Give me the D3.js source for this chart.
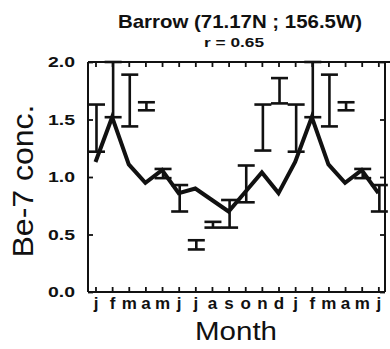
<!DOCTYPE html>
<html>
<head>
<meta charset="utf-8">
<script src="https://cdn.jsdelivr.net/npm/d3@7"></script>
<style>
  html, body { margin: 0; padding: 0; background: #fff; }
  svg { display: block; }
  text { font-family: "Liberation Sans", Arial, Helvetica, sans-serif; fill: #111; }
</style>
</head>
<body>
<script>
// Eighteen months, January of one year through June of the next
const monthLabels = ["j","f","m","a","m","j","j","a","s","o","n","d","j","f","m","a","m","j"];

// Modelled monthly Be-7 concentration (second year repeats Jan-Jun)
const modelConc = [1.13, 1.52, 1.11, 0.95, 1.06, 0.86, 0.90, 0.80, 0.70, 0.87, 1.04, 0.86,
                   1.13, 1.52, 1.11, 0.95, 1.06, 0.86];

// Observed ranges per month (low / high)
const obsLow  = [1.22, 1.52, 1.44, 1.58, 0.99, 0.70, 0.37, 0.56, 0.56, 0.78, 1.23, 1.64,
                 1.22, 1.52, 1.44, 1.58, 0.99, 0.70];
const obsHigh = [1.63, 2.00, 1.89, 1.65, 1.07, 0.93, 0.45, 0.61, 0.80, 1.10, 1.63, 1.86,
                 1.63, 2.00, 1.89, 1.65, 1.07, 0.93];

const yTicks = [0.0, 0.5, 1.0, 1.5, 2.0];

const W = 390, H = 349;
const L = 88, R = 385, T = 62, B = 292;

const svg = d3.select("body").append("svg").attr("width", W).attr("height", H);

const x = d3.scaleLinear().domain([-0.45, 17.4]).range([L, R]);
const y = d3.scaleLinear().domain([0, 2]).range([B, T]);
const months = d3.range(monthLabels.length);

// Titles
svg.append("text")
  .attr("x", 240).attr("y", 28)
  .attr("text-anchor", "middle")
  .attr("font-size", 19).attr("font-weight", "bold")
  .attr("textLength", 244).attr("lengthAdjust", "spacingAndGlyphs")
  .text("Barrow (71.17N ;  156.5W)");

svg.append("text")
  .attr("x", 234).attr("y", 47)
  .attr("text-anchor", "middle")
  .attr("font-size", 12.5).attr("font-weight", "bold")
  .attr("textLength", 60).attr("lengthAdjust", "spacingAndGlyphs")
  .text("r = 0.65");

// Bottom axis: inward ticks, month letters
const gBottom = svg.append("g").attr("transform", `translate(0,${B})`)
  .call(d3.axisBottom(x).tickValues(months).tickSizeInner(-5).tickSizeOuter(0)
        .tickPadding(5).tickFormat(i => monthLabels[i]));
gBottom.selectAll("text").attr("font-size", 17).attr("font-weight", "bold");

// Top axis: inward ticks only
svg.append("g").attr("transform", `translate(0,${T})`)
  .call(d3.axisTop(x).tickValues(months).tickSizeInner(-5).tickSizeOuter(0).tickFormat(""));

// Left axis
const gLeft = svg.append("g").attr("transform", `translate(${L},0)`)
  .call(d3.axisLeft(y).tickValues(yTicks).tickSizeInner(-5).tickSizeOuter(0)
        .tickPadding(13).tickFormat(d3.format(".1f")));
gLeft.selectAll("text").attr("font-size", 15).attr("font-weight", "bold")
  .attr("textLength", 27).attr("lengthAdjust", "spacingAndGlyphs");

// Right axis: inward ticks only
svg.append("g").attr("transform", `translate(${R},0)`)
  .call(d3.axisRight(y).tickValues(yTicks).tickSizeInner(-5).tickSizeOuter(0).tickFormat(""));

svg.selectAll(".domain").remove();
svg.selectAll(".tick line").attr("stroke", "#111").attr("stroke-width", 1.8);

// Frame
const frame = svg.append("g").attr("stroke", "#111").attr("stroke-width", 2).attr("fill", "none");
frame.append("line").attr("x1", L).attr("x2", W).attr("y1", T).attr("y2", T);
frame.append("line").attr("x1", L).attr("x2", R).attr("y1", B).attr("y2", B);
frame.append("line").attr("x1", L).attr("x2", L).attr("y1", T).attr("y2", B);
frame.append("line").attr("x1", R).attr("x2", R).attr("y1", T).attr("y2", B);

// Axis titles
svg.append("text")
  .attr("transform", `translate(33,181) rotate(-90)`)
  .attr("text-anchor", "middle")
  .attr("font-size", 30)
  .attr("textLength", 153).attr("lengthAdjust", "spacingAndGlyphs")
  .text("Be-7 conc.");

svg.append("text")
  .attr("x", 236).attr("y", 340)
  .attr("text-anchor", "middle")
  .attr("font-size", 25)
  .attr("textLength", 82).attr("lengthAdjust", "spacingAndGlyphs")
  .text("Month");

// Observed ranges as capped bars
const capHalf = 8.5;
const bars = svg.append("g").attr("stroke", "#111").attr("stroke-width", 2.6).attr("fill", "none");
months.forEach(i => {
  const cx = x(i) + 1;
  const y0 = y(obsLow[i]), y1 = y(obsHigh[i]);
  bars.append("line").attr("x1", cx).attr("x2", cx).attr("y1", y0).attr("y2", y1);
  bars.append("line").attr("x1", cx - capHalf).attr("x2", cx + capHalf).attr("y1", y0).attr("y2", y0);
  bars.append("line").attr("x1", cx - capHalf).attr("x2", cx + capHalf).attr("y1", y1).attr("y2", y1);
});

// Modelled curve
svg.append("path")
  .datum(modelConc)
  .attr("fill", "none")
  .attr("stroke", "#111")
  .attr("stroke-width", 4)
  .attr("stroke-linejoin", "miter")
  .attr("d", d3.line().x((d, i) => x(i)).y(d => y(d)));
</script>
</body>
</html>
